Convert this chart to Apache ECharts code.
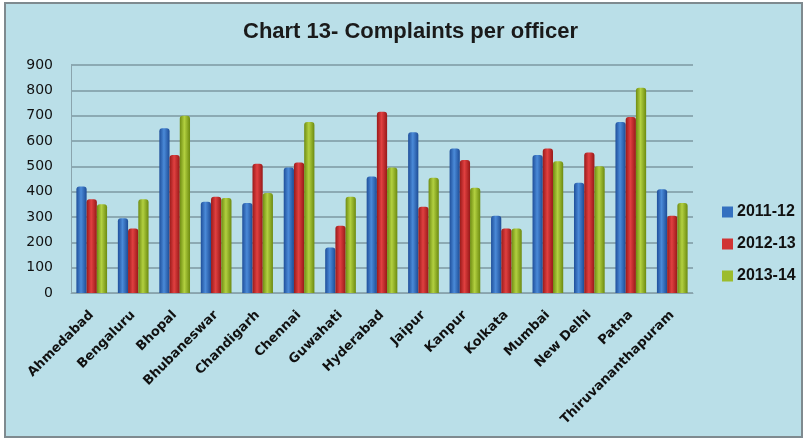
<!DOCTYPE html>
<html><head><meta charset="utf-8">
<script src="https://cdn.jsdelivr.net/npm/echarts@6/dist/echarts.min.js"></script>
<style>html,body{margin:0;padding:0;background:#fff}#c{width:807px;height:440px}</style>
</head><body><div id="c"></div>
<script>
const categories = ["Ahmedabad","Bengaluru","Bhopal","Bhubaneswar","Chandigarh","Chennai","Guwahati","Hyderabad","Jaipur","Kanpur","Kolkata","Mumbai","New Delhi","Patna","Thiruvananthapuram"];
const s2011 = [420,295,650,360,355,495,180,460,635,570,305,545,435,675,410];
const s2012 = [370,255,545,380,510,515,265,715,340,525,255,570,555,695,305];
const s2013 = [350,370,700,375,395,675,380,495,455,415,255,520,500,810,355];
const seriesNames = ["2011-12","2012-13","2013-14"];
const yTicks = [0,100,200,300,400,500,600,700,800,900];

function grad(a,b,c){return new echarts.graphic.LinearGradient(0,0,1,0,[{offset:0,color:a},{offset:0.45,color:b},{offset:1,color:c}]);}
const fills = [grad('#1f4f9a','#4a8ad8','#1d4c96'), grad('#9a1a1a','#e04040','#981818'), grad('#6f8c12','#b2d040','#6c8a10')];
const legendColors = ['#3470c0','#d03434','#9cbc2c'];
const data = [s2011,s2012,s2013];

const chart = echarts.init(document.getElementById('c'));
chart.setOption({
  backgroundColor:'#ffffff',
  animation:false,
  graphic:[{type:'rect',z:-10,shape:{x:5,y:3,width:797,height:434},style:{fill:'#badfe8',stroke:'#7f8a8f',lineWidth:2}}],
  title:{text:'Chart 13- Complaints per officer',left:243,top:21,padding:0,textStyle:{fontFamily:'Liberation Sans',fontWeight:'bold',fontSize:22,color:'#1a1a1a'}},
  legend:{orient:'vertical',left:722,top:204,itemGap:16,itemWidth:11,itemHeight:11,icon:'rect',padding:0,
    textStyle:{fontFamily:'Liberation Sans',fontWeight:'bold',fontSize:16,color:'#111',padding:[0,0,0,-1]},
    data:seriesNames.map((n,i)=>({name:n,itemStyle:{color:legendColors[i]}}))},
  grid:{left:71,right:114,top:65,bottom:147,containLabel:false,show:false},
  xAxis:{type:'category',data:categories,
    axisLine:{show:true,lineStyle:{color:'#8aa4ad'}},axisTick:{show:false},
    axisLabel:{rotate:45,interval:0,margin:20,fontFamily:'DejaVu Sans',fontWeight:'bold',fontSize:13,color:'#111'}},
  yAxis:{type:'value',min:0,max:900,interval:100,
    axisLine:{show:true,lineStyle:{color:'#8aa4ad'}},axisTick:{show:false},
    splitLine:{lineStyle:{color:'#7d98a2',width:1.5}},
    axisLabel:{margin:18,fontFamily:'DejaVu Sans',fontSize:14,color:'#111',formatter:v=>yTicks.includes(v)?String(v):''}},
  series:seriesNames.map((n,i)=>({name:n,type:'bar',data:data[i],barGap:'0%',barCategoryGap:'26%',
    itemStyle:{color:fills[i],borderRadius:[3,3,0,0]}}))
});
</script></body></html>
